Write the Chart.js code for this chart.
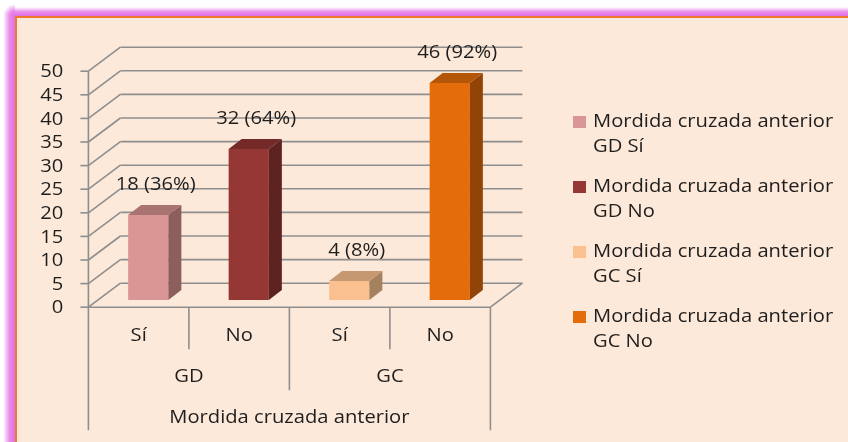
<!DOCTYPE html>
<html><head><meta charset="utf-8">
<script src="https://cdn.jsdelivr.net/npm/chart.js@4.4.0/dist/chart.umd.min.js"></script>
<style>html,body{margin:0;padding:0;background:#ffffff;overflow:hidden}#wrap{width:848px;height:442px;position:relative}canvas{display:block}</style>
</head><body><div id="wrap"><canvas id="c" width="848" height="442"></canvas></div>
<script>
// ---- data ----
const axisTitle = 'Mordida cruzada anterior';
const groups = ['GD', 'GC'];
const answers = ['Sí', 'No', 'Sí', 'No'];
const groupOf = ['GD', 'GD', 'GC', 'GC'];
const values = [18, 32, 4, 46];
const percents = [36, 64, 8, 92];
const yTicks = [0, 5, 10, 15, 20, 25, 30, 35, 40, 45, 50];
const legendLabels = answers.map((a, i) => axisTitle + ' ' + groupOf[i] + ' ' + a);
const frontColors = ['#D99694', '#953735', '#FAC090', '#E46C0A'];
const sideColors = ['#8C5E5D', '#5E2221', '#A6815F', '#924306'];
const topColors = ['#A87371', '#742A29', '#C59871', '#B45608'];

// ---- style ----
const FONT = '"Open Sans", "Noto Sans", sans-serif';
const SX = 1.12;
const FS = 18;
const TXT = '#1E1E1E';
const GRID = '#8E8E8E';
const DX = 32, DY = 24, F = 0.3;
const BDX = 13, BDY = 10;

function txt(c, s, x, y, align, size) {
  c.save();
  c.font = size + 'px ' + FONT;
  c.fillStyle = TXT;
  c.textBaseline = 'middle';
  c.translate(x, y);
  c.scale(SX, 1);
  c.textAlign = align;
  c.fillText(s, 0, 0);
  c.restore();
}
function line(c, x1, y1, x2, y2) {
  c.beginPath(); c.moveTo(x1, y1); c.lineTo(x2, y2); c.stroke();
}

const frame3d = {
  id: 'frame3d',
  beforeDraw(chart) {
    const c = chart.ctx, W = 848, H = 442;
    c.save();
    c.fillStyle = '#ffffff'; c.fillRect(0, 0, W, H);
    let g = c.createLinearGradient(3, 0, 15, 0);
    g.addColorStop(0, 'rgba(226,110,228,0)');
    g.addColorStop(0.55, 'rgba(226,110,228,0.8)');
    g.addColorStop(1, 'rgba(224,112,226,1)');
    c.fillStyle = g; c.fillRect(3, 16, 12, H);
    g = c.createLinearGradient(0, 7, 0, 16);
    g.addColorStop(0, 'rgba(226,110,228,0)');
    g.addColorStop(0.55, 'rgba(226,110,228,0.8)');
    g.addColorStop(1, 'rgba(224,112,226,1)');
    c.fillStyle = g; c.fillRect(15, 7, W, 9);
    g = c.createRadialGradient(15, 16, 0, 15, 16, 12);
    g.addColorStop(0, 'rgba(224,112,226,1)');
    g.addColorStop(0.45, 'rgba(226,110,228,0.8)');
    g.addColorStop(1, 'rgba(226,110,228,0)');
    c.fillStyle = g; c.fillRect(3, 4, 12, 12);
    c.fillStyle = '#EE7B2C'; c.fillRect(15, 16, W, H);
    c.fillStyle = '#FDE9D9'; c.fillRect(17, 18, W, H);
    c.restore();
  },
  beforeDatasetsDraw(chart) {
    const c = chart.ctx, a = chart.chartArea;
    const ys = chart.scales.y, xs = chart.scales.x;
    const fx = -F * DX, fy = F * DY, bx = (1 - F) * DX, by = -(1 - F) * DY;
    c.save();
    c.strokeStyle = GRID; c.lineWidth = 1.6;
    yTicks.forEach(v => {
      const y = ys.getPixelForValue(v);
      line(c, a.left + fx, y + fy, a.left + bx, y + by);
      line(c, a.left + bx, y + by, a.right + bx, y + by);
      line(c, a.left + fx - 8, y + fy, a.left + fx, y + fy);
    });
    const y0 = ys.getPixelForValue(0), y50 = ys.getPixelForValue(50);
    line(c, a.left + fx, y50 + fy, a.left + fx, y0 + fy);
    line(c, a.left + fx, y0 + fy, a.right + fx, y0 + fy);
    line(c, a.right + fx, y0 + fy, a.right + bx, y0 + by);
    const step = (a.right - a.left) / answers.length;
    const yf = y0 + fy;
    for (let i = 0; i <= answers.length; i++) {
      const x = a.left + fx + i * step;
      let len;
      if (i === 0 || i === answers.length) len = 123;
      else if (i === answers.length / 2) len = 83;
      else len = 42;
      line(c, x, yf, x, yf + len);
    }
    yTicks.forEach(v => {
      txt(c, String(v), a.left + fx - 25, ys.getPixelForValue(v) + fy + 1, 'right', FS);
    });
    answers.forEach((s, i) => {
      txt(c, s, xs.getPixelForValue(i) + fx, yf + 29, 'center', FS);
    });
    groups.forEach((gname, k) => {
      const xm = (xs.getPixelForValue(2 * k) + xs.getPixelForValue(2 * k + 1)) / 2 + fx;
      txt(c, gname, xm, yf + 70, 'center', FS);
    });
    txt(c, axisTitle, (a.left + a.right) / 2 + fx, yf + 111, 'center', FS);
    legendLabels.forEach((lab, i) => {
      const ly = 122 + i * 65;
      c.fillStyle = frontColors[i];
      c.fillRect(573, ly - 6, 13, 12);
      const l1 = lab.slice(0, axisTitle.length), l2 = lab.slice(axisTitle.length + 1);
      txt(c, l1, 593, ly, 'left', FS);
      txt(c, l2, 593, ly + 25, 'left', FS);
    });
    c.restore();
  },
  afterDatasetsDraw(chart) {
    const c = chart.ctx, meta = chart.getDatasetMeta(0);
    c.save();
    meta.data.forEach((bar, i) => {
      const p = bar.getProps(['x', 'y', 'base', 'width'], true);
      const l = p.x - p.width / 2, r = p.x + p.width / 2, t = p.y, b = p.base;
      c.fillStyle = sideColors[i];
      c.beginPath();
      c.moveTo(r, t); c.lineTo(r + BDX, t - BDY); c.lineTo(r + BDX, b - BDY); c.lineTo(r, b);
      c.closePath(); c.fill();
      c.fillStyle = topColors[i];
      c.beginPath();
      c.moveTo(l, t); c.lineTo(l + BDX, t - BDY); c.lineTo(r + BDX, t - BDY); c.lineTo(r, t);
      c.closePath(); c.fill();
      txt(c, values[i] + ' (' + percents[i] + '%)', p.x + 7.5, t - 30, 'center', FS);
    });
    c.restore();
  }
};

new Chart(document.getElementById('c'), {
  type: 'bar',
  data: {
    labels: answers,
    datasets: [{
      label: axisTitle,
      data: values,
      backgroundColor: frontColors,
      borderWidth: 0,
      barPercentage: 0.4,
      categoryPercentage: 1
    }]
  },
  options: {
    responsive: false,
    animation: false,
    devicePixelRatio: 1,
    layout: { padding: { left: 98, right: 348, top: 64, bottom: 142 } },
    scales: {
      x: { display: false },
      y: { display: false, min: 0, max: 50, ticks: { stepSize: 5 } }
    },
    plugins: { legend: { display: false }, tooltip: { enabled: false } }
  },
  plugins: [frame3d]
});
</script>
</body></html>
